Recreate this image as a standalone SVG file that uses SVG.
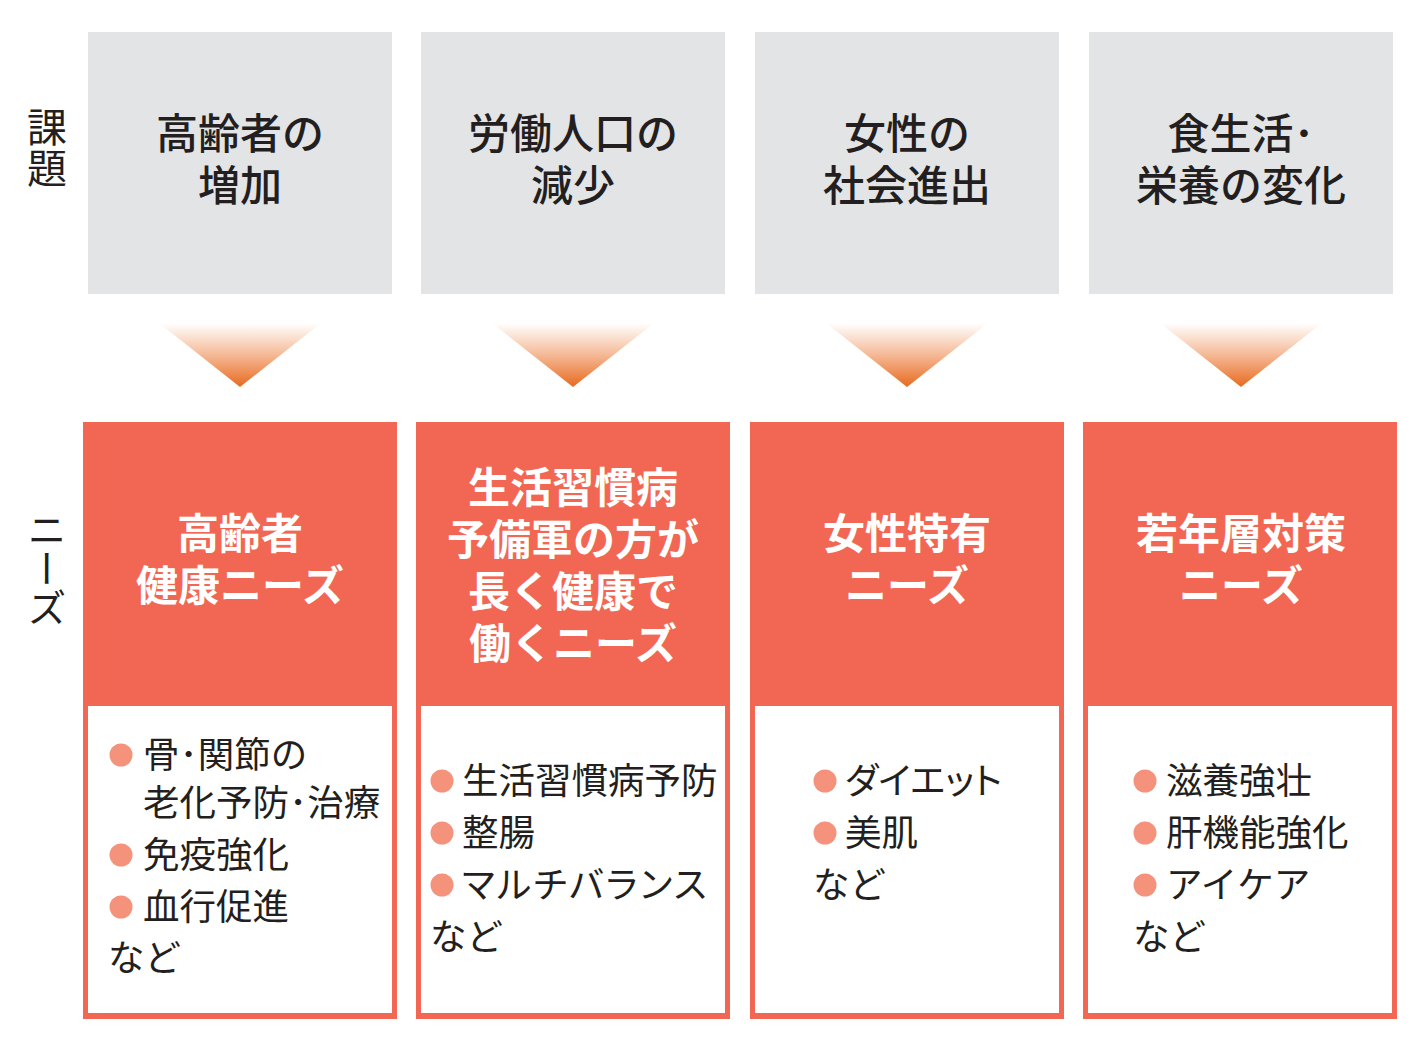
<svg xmlns="http://www.w3.org/2000/svg" width="1418" height="1040" viewBox="0 0 1418 1040">
<style>
text{font-family:"Noto Sans CJK JP","Noto Sans CJK SC",sans-serif;}
.gray{fill:#e3e4e6;}
.gt{font-size:42px;fill:#231f20;text-anchor:middle;dominant-baseline:central;font-weight:500;}
.hdr{fill:#f26753;}
.ht{font-size:42px;fill:#ffffff;text-anchor:middle;dominant-baseline:central;font-weight:700;}
.inner{fill:#ffffff;}
.bt{font-size:36.5px;fill:#231f20;dominant-baseline:central;}
.kp{font-feature-settings:"palt";}
.dot{fill:#f4927c;}
.side{font-size:40px;fill:#231f20;text-anchor:middle;}
</style>
<defs>
<linearGradient id="arr" x1="0" y1="0" x2="0" y2="1">
<stop offset="0" stop-color="#ec7a35" stop-opacity="0"/>
<stop offset="1" stop-color="#e8691f" stop-opacity="1"/>
</linearGradient>
</defs>
<rect width="1418" height="1040" fill="#ffffff"/>

<g id="label-kadai">
<text class="side" x="47" y="125" dominant-baseline="central">課</text>
<text class="side" x="47" y="166" dominant-baseline="central">題</text>
</g>
<g id="label-needs">
<text class="side" x="47" y="510" style="writing-mode:vertical-rl;text-orientation:upright;font-size:39px;text-anchor:start;">ニーズ</text>
</g>

<g id="issue1"><rect class="gray" x="88" y="32" width="304" height="262"/>
<text class="gt" x="240" y="130">高齢者の</text><text class="gt" x="240" y="182">増加</text></g>
<g id="issue2"><rect class="gray" x="421" y="32" width="304" height="262"/>
<text class="gt" x="573" y="130">労働人口の</text><text class="gt" x="573" y="182">減少</text></g>
<g id="issue3"><rect class="gray" x="755" y="32" width="304" height="262"/>
<text class="gt" x="907" y="130">女性の</text><text class="gt" x="907" y="182">社会進出</text></g>
<g id="issue4"><rect class="gray" x="1089" y="32" width="304" height="262"/>
<text class="gt" x="1241" y="130">食生活･</text><text class="gt" x="1241" y="182">栄養の変化</text></g>

<g id="connectors">
<polygon points="159,323 321,323 240,387" fill="url(#arr)"/>
<polygon points="492,323 654,323 573,387" fill="url(#arr)"/>
<polygon points="826,323 988,323 907,387" fill="url(#arr)"/>
<polygon points="1160,323 1322,323 1241,387" fill="url(#arr)"/>
</g>

<g id="need1">
<rect class="hdr" x="83" y="422" width="314" height="597"/>
<rect class="inner" x="88" y="706" width="304" height="307"/>
<text class="ht" x="240" y="530">高齢者</text>
<text class="ht" x="240" y="582">健康ニーズ</text>
<circle class="dot" cx="121" cy="755" r="11.5"/>
<text class="bt" x="143" y="752">骨･関節の</text>
<text class="bt" x="143" y="800">老化予防･治療</text>
<circle class="dot" cx="121" cy="855" r="11.5"/>
<text class="bt" x="143" y="852">免疫強化</text>
<circle class="dot" cx="121" cy="907" r="11.5"/>
<text class="bt" x="143" y="904">血行促進</text>
<text class="bt" x="108" y="955">など</text>
</g>

<g id="need2">
<rect class="hdr" x="416" y="422" width="314" height="597"/>
<rect class="inner" x="421" y="706" width="304" height="307"/>
<text class="ht" x="573" y="484">生活習慣病</text>
<text class="ht" x="573" y="536">予備軍の方が</text>
<text class="ht" x="573" y="588">長く健康で</text>
<text class="ht" x="573" y="640">働くニーズ</text>
<circle class="dot" cx="442" cy="781" r="11.5"/>
<text class="bt" x="462" y="778">生活習慣病予防</text>
<circle class="dot" cx="442" cy="833" r="11.5"/>
<text class="bt" x="462" y="830">整腸</text>
<circle class="dot" cx="442" cy="885" r="11.5"/>
<text class="bt kp" x="462" y="882" letter-spacing="2.3">マルチバランス</text>
<text class="bt" x="430" y="934">など</text>
</g>

<g id="need3">
<rect class="hdr" x="750" y="422" width="314" height="597"/>
<rect class="inner" x="755" y="706" width="304" height="307"/>
<text class="ht" x="907" y="530">女性特有</text>
<text class="ht" x="907" y="582">ニーズ</text>
<circle class="dot" cx="825" cy="781" r="11.5"/>
<text class="bt kp" x="845" y="778">ダイエット</text>
<circle class="dot" cx="825" cy="833" r="11.5"/>
<text class="bt" x="845" y="830">美肌</text>
<text class="bt" x="813" y="882">など</text>
</g>

<g id="need4">
<rect class="hdr" x="1083" y="422" width="314" height="597"/>
<rect class="inner" x="1088" y="706" width="304" height="307"/>
<text class="ht" x="1241" y="530">若年層対策</text>
<text class="ht" x="1241" y="582">ニーズ</text>
<circle class="dot" cx="1145" cy="781" r="11.5"/>
<text class="bt" x="1166" y="778">滋養強壮</text>
<circle class="dot" cx="1145" cy="833" r="11.5"/>
<text class="bt" x="1166" y="830">肝機能強化</text>
<circle class="dot" cx="1145" cy="885" r="11.5"/>
<text class="bt" x="1166" y="882">アイケア</text>
<text class="bt" x="1133" y="934">など</text>
</g>
</svg>
